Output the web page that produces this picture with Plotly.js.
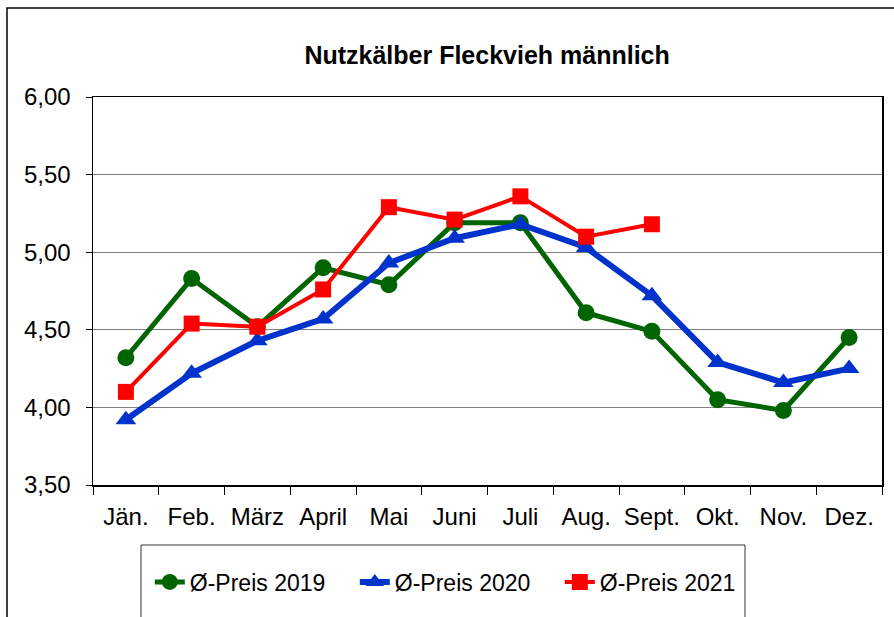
<!DOCTYPE html>
<html>
<head>
<meta charset="utf-8">
<script src="https://cdn.plot.ly/plotly-3.0.1.min.js"></script>
<style>html,body{margin:0;padding:0;background:#fff;}#chart{width:894px;height:617px;}</style>
</head>
<body>
<div id="chart"></div>
<script>
const months = ["Jän.", "Feb.", "März", "April", "Mai", "Juni", "Juli", "Aug.", "Sept.", "Okt.", "Nov.", "Dez."];
const preis2019 = [4.32, 4.83, 4.52, 4.90, 4.79, 5.19, 5.19, 4.61, 4.49, 4.05, 3.98, 4.45];
const preis2020 = [3.92, 4.22, 4.43, 4.57, 4.93, 5.09, 5.18, 5.03, 4.72, 4.29, 4.16, 4.25];
const preis2021 = [4.10, 4.54, 4.52, 4.76, 5.29, 5.21, 5.36, 5.10, 5.18];
const seriesNames = ["Ø-Preis 2019", "Ø-Preis 2020", "Ø-Preis 2021"];
const chartTitle = "Nutzkälber Fleckvieh männlich";

const font = "Liberation Sans, Arial, sans-serif";

const traces = [
  {x: months, y: preis2019, name: seriesNames[0], type: "scatter", mode: "lines+markers",
   line: {color: "#006400", width: 5}, marker: {symbol: "circle", size: 17, color: "#006400"}},
  {x: months.slice(0, preis2020.length), y: preis2020, name: seriesNames[1], type: "scatter", mode: "lines+markers",
   line: {color: "#0033CC", width: 6}, marker: {symbol: "triangle-up", size: 18, color: "#0033CC"}},
  {x: months.slice(0, preis2021.length), y: preis2021, name: seriesNames[2], type: "scatter", mode: "lines+markers",
   line: {color: "#FF0000", width: 4}, marker: {symbol: "square", size: 16, color: "#FF0000"}}
];

const layout = {
  width: 894, height: 617,
  margin: {l: 93, r: 12, t: 97, b: 132},
  paper_bgcolor: "#fff", plot_bgcolor: "#fff",
  separators: ",.",
  font: {family: font, color: "#000"},
  title: {text: "<b>" + chartTitle + "</b>", font: {size: 25, family: font, color: "#000"},
          x: 0.4995, xref: "paper", xanchor: "center", y: 1 - 55/617, yanchor: "middle"},
  xaxis: {type: "category", categoryorder: "array", categoryarray: months,
          range: [-0.5, 11.5], showgrid: false, tickson: "boundaries",
          ticks: "outside", ticklen: 8, tickcolor: "#000", tickwidth: 1,
          showline: true, linecolor: "#000", linewidth: 1.5, mirror: true,
          tickfont: {size: 24, family: font, color: "#000"}, ticklabelstandoff: 10,
          zeroline: false, fixedrange: true, automargin: false},
  yaxis: {range: [3.5, 6.0], dtick: 0.5, tick0: 3.5, tickformat: ".2f",
          showgrid: true, gridcolor: "#808080", gridwidth: 1,
          ticks: "outside", ticklen: 6, tickcolor: "#000", tickwidth: 1,
          showline: true, linecolor: "#000", linewidth: 1.5, mirror: true,
          tickfont: {size: 24, family: font, color: "#000"}, ticklabelstandoff: 10,
          zeroline: false, fixedrange: true, automargin: false},
  showlegend: true,
  legend: {orientation: "h", x: 0.072, xanchor: "left", y: -0.25, yanchor: "middle",
           font: {size: 23, family: font, color: "#000"}, entrywidth: 160, entrywidthmode: "pixels",
           bgcolor: "rgba(0,0,0,0)", borderwidth: 0},
  shapes: [
    {type: "rect", xref: "paper", yref: "paper", x0: -0.109, x1: 1.2, y0: -0.6, y1: (485-8)/388,
     line: {color: "#000", width: 1.5}, fillcolor: "rgba(0,0,0,0)", layer: "below"},
    {type: "rect", xref: "paper", yref: "paper", x0: (141-93)/789, x1: (745-93)/789, y0: -0.6, y1: (485-545)/388,
     line: {color: "#333", width: 1}, fillcolor: "rgba(0,0,0,0)", layer: "below"}
  ]
};

Plotly.newPlot("chart", traces, layout, {displayModeBar: false, staticPlot: true});
</script>
</body>
</html>
